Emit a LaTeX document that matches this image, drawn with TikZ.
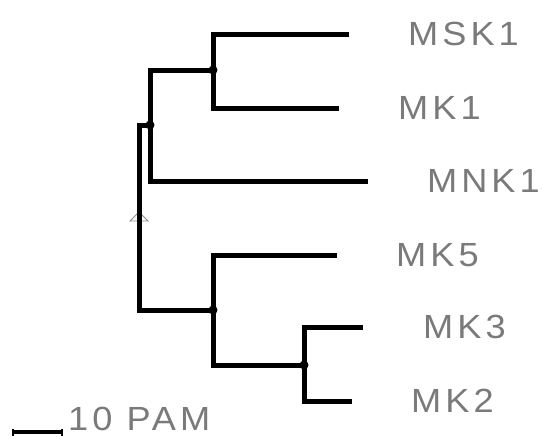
\documentclass[tikz,border=0pt]{standalone}
\usepackage{fontspec}
\setmainfont{Liberation Sans}[LetterSpace=12,FakeStretch=1.08]
\begin{document}
\begin{tikzpicture}[x=1pt,y=-1pt,
  branch/.style={line width=5pt,line join=miter,line cap=butt},
  joint/.style={circle,fill=black,inner sep=0pt,minimum size=9pt},
  taxon/.style={anchor=west,inner sep=0pt,text=black!52,font=\fontsize{33.5}{36}\selectfont}]
\useasboundingbox (0,0) rectangle (542,437);
% internal nodes
\node[joint] (n1) at (213,70) {};
\node[joint] (n2) at (150,125) {};
\node[joint] (n3) at (213,310) {};
\node[joint] (n4) at (304,365) {};
\coordinate (rtop) at (139,125);
\coordinate (rbot) at (139,310);
% leaf tips
\coordinate (msk1) at (349,34);
\coordinate (mk1) at (339,108);
\coordinate (mnk1) at (368,181);
\coordinate (mk5) at (337,255);
\coordinate (mk3) at (363,327);
\coordinate (mk2) at (352,401);
% branches
\draw[branch] (msk1) -- (msk1 -| n1.center) -- (mk1 -| n1.center) -- (mk1);
\draw[branch] (n1.center) -- (n1 -| n2.center) -- (mnk1 -| n2.center) -- (mnk1);
\draw[branch] (n2.center) -- (rtop) -- (rbot) -- (n3.center);
\draw[branch] (mk5) -- (mk5 -| n3.center) -- (n4 -| n3.center) -- (n4.center);
\draw[branch] (mk3) -- (mk3 -| n4.center) -- (mk2 -| n4.center) -- (mk2);
% root marker (open triangle pointing up)
\coordinate (rootmark) at (139,217);
\draw[black!45,line width=0.8pt] ([xshift=-9pt,yshift=-4pt]rootmark) -- ([yshift=5pt]rootmark) -- ([xshift=9pt,yshift=-4pt]rootmark) -- cycle;
\draw[branch] (rtop) -- (rbot);
% labels
\node[taxon] (lmsk1) at (408,34) {MSK1};
\node[taxon] (lmk1) at (398,108) {MK1};
\node[taxon] (lmnk1) at (427,181) {MNK1};
\node[taxon] (lmk5) at (396,255) {MK5};
\node[taxon] (lmk3) at (423,327) {MK3};
\node[taxon] (lmk2) at (411,401) {MK2};
% scale bar
\coordinate (sa) at (13,432);
\coordinate (sb) at (62,432);
\draw[line width=4pt] (sa) -- (sb);
\draw[line width=2pt] ([yshift=-3.5pt]sa) -- ([yshift=3.5pt]sa);
\draw[line width=2pt] ([yshift=-3.5pt]sb) -- ([yshift=3.5pt]sb);
\node[taxon] (scale) at (68,419) {10 PAM};
\end{tikzpicture}
\end{document}
